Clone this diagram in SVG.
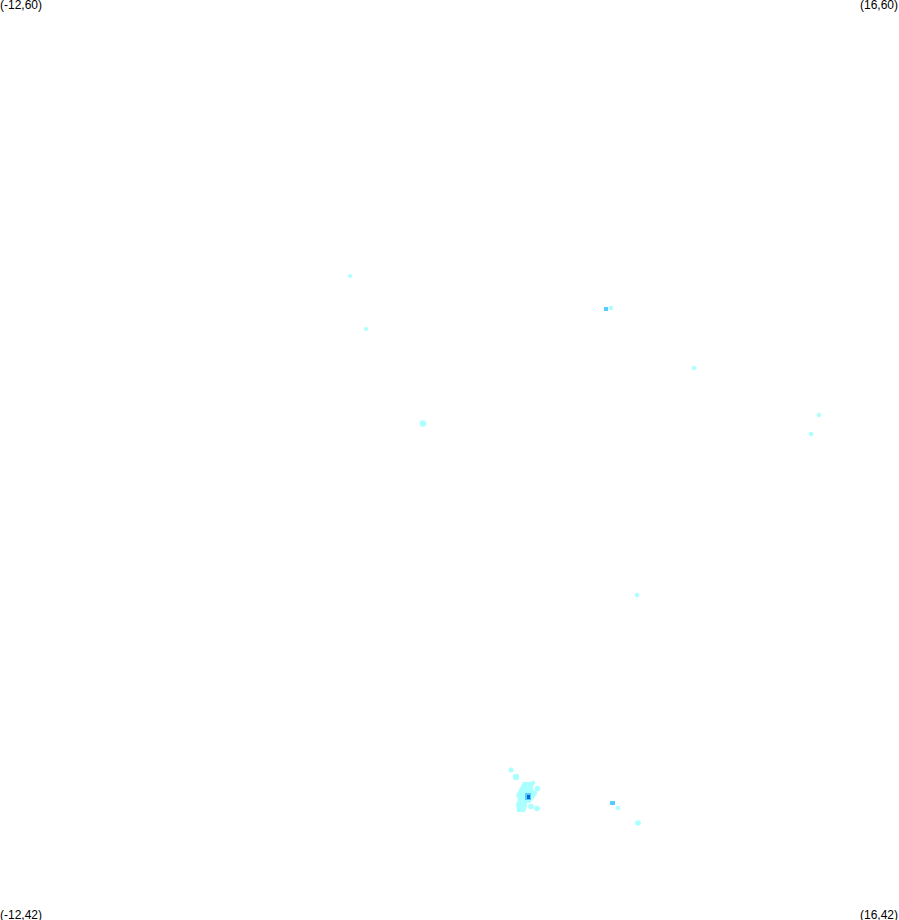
<svg xmlns="http://www.w3.org/2000/svg" width="899" height="920" viewBox="0 0 899 920">
<style>
text{font-family:"Liberation Sans",Arial,sans-serif;font-size:12px;fill:#000}
.c{fill:#aaffff}
.m{fill:#55ccff}
.d{fill:#0066cc}
</style>
<defs><filter id="soft" x="-5%" y="-5%" width="110%" height="110%"><feGaussianBlur stdDeviation="0.45"/></filter></defs>
<rect width="899" height="920" fill="#ffffff"/>
<text x="0" y="9">(-12,60)</text>
<text x="898" y="9" text-anchor="end">(16,60)</text>
<text x="0" y="919">(-12,42)</text>
<text x="898" y="919" text-anchor="end">(16,42)</text>
<g id="points" filter="url(#soft)">
<circle class="c" cx="350" cy="276" r="2"/>
<circle class="c" cx="366" cy="329" r="2"/>
<circle class="c" cx="423" cy="423.500" r="3.200"/>
<circle class="c" cx="611" cy="308" r="2.200"/>
<rect class="m" x="604" y="307" width="4" height="4"/>
<circle class="c" cx="694" cy="368" r="2.200"/>
<circle class="c" cx="819" cy="415" r="2.200"/>
<circle class="c" cx="811" cy="434" r="2.200"/>
<circle class="c" cx="637" cy="595" r="2.200"/>
<circle class="c" cx="618" cy="808" r="2.200"/>
<circle class="c" cx="638" cy="823" r="2.800"/>
<rect class="m" x="610" y="801" width="5" height="4"/>
<circle class="c" cx="511" cy="770" r="2.500"/>
<circle class="c" cx="516" cy="777" r="3.200"/>
<path class="c" d="M523 782H533V790L537 791V794L534 798L530 803H527V806L525 812H517L516 804L518 800L516 795L519 790Z"/>
<circle class="c" cx="533" cy="783" r="2.200"/>
<circle class="c" cx="537.500" cy="788.500" r="2.800"/>
<circle class="c" cx="531" cy="806.500" r="2.800"/>
<circle class="c" cx="537" cy="808.500" r="2.800"/>
<rect class="m" x="525" y="793" width="6" height="7"/>
<rect class="d" x="527" y="795" width="3" height="4"/>
</g>
</svg>
